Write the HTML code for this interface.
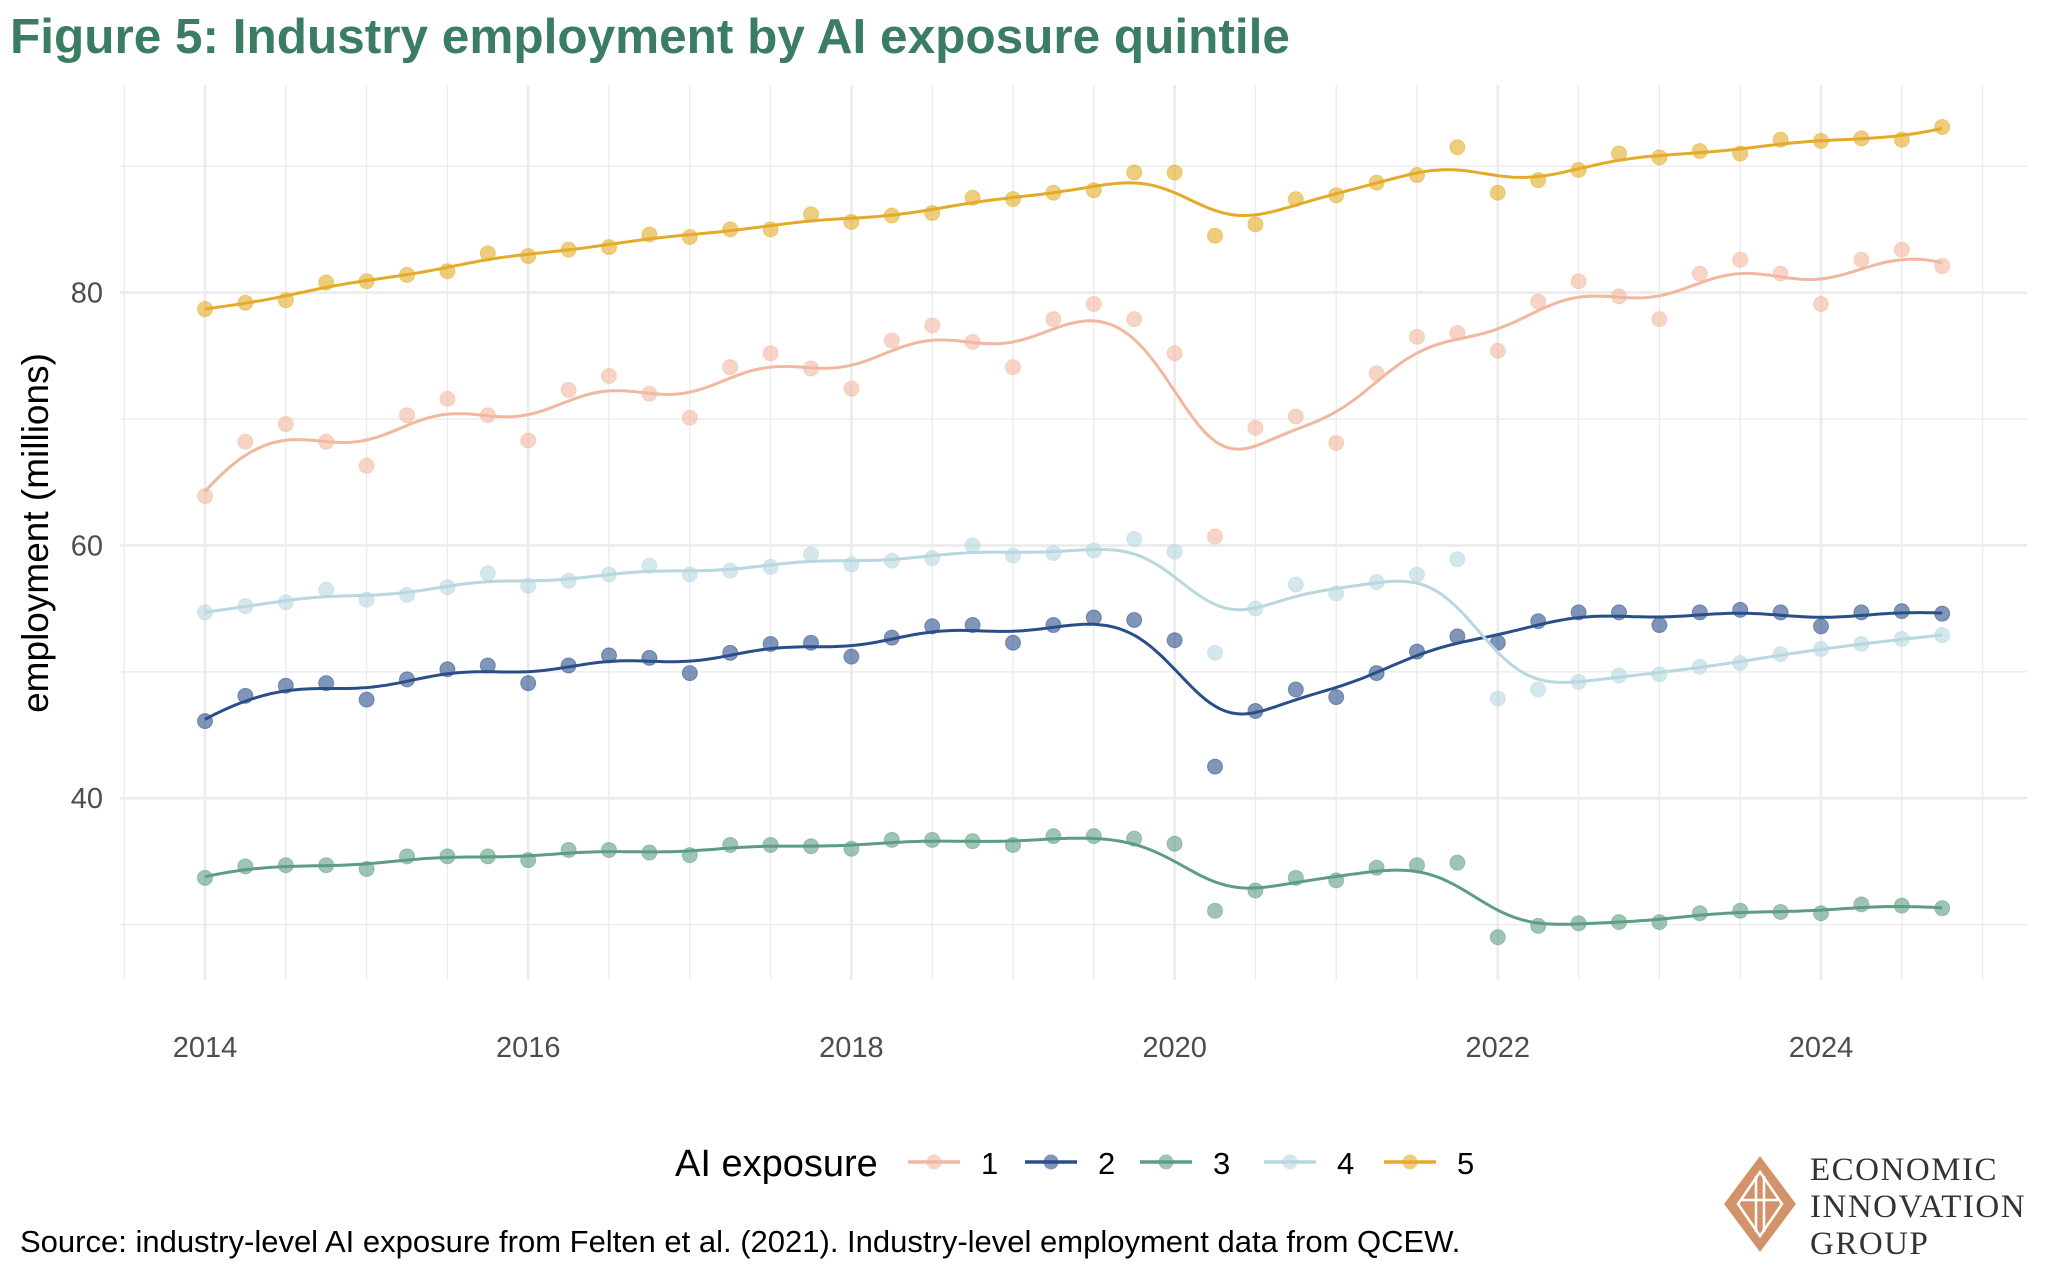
<!DOCTYPE html>
<html><head><meta charset="utf-8"><style>
html,body{margin:0;padding:0;background:#fff;}
body{width:2048px;height:1280px;overflow:hidden;font-family:"Liberation Sans",sans-serif;}
</style></head><body>
<svg id="chart" width="2048" height="1280" viewBox="0 0 2048 1280" xmlns="http://www.w3.org/2000/svg">
<text x="10" y="53" font-family="Liberation Sans, sans-serif" font-weight="bold" font-size="49.5" fill="#3b7d63">Figure 5: Industry employment by AI exposure quintile</text>
<g id="grid"></g>
<g id="series"></g>
<g id="axes"></g>
<text transform="translate(48,533) rotate(-90)" text-anchor="middle" font-size="37" fill="#000">employment (millions)</text>
<g id="legend">
<text x="675" y="1176" font-size="38" fill="#000">AI exposure</text>
</g>
<text x="20" y="1252" font-size="31" fill="#000">Source: industry-level AI exposure from Felten et al. (2021). Industry-level employment data from QCEW.</text>
<g>
<polygon points="1760,1156 1796,1204 1760,1252 1724,1204" fill="#d4926b"/>
<polygon points="1760,1172 1782,1204 1760,1236 1738,1204" fill="none" stroke="#fff" stroke-width="2.5"/>
<line x1="1756" y1="1176" x2="1756" y2="1232" stroke="#fff" stroke-width="2.5"/>
<line x1="1764" y1="1176" x2="1764" y2="1232" stroke="#fff" stroke-width="2.5"/>
<line x1="1742" y1="1200" x2="1778" y2="1200" stroke="#fff" stroke-width="2.5"/>
<text x="1810" y="1180" font-family="Liberation Serif, serif" font-size="33" fill="#333" letter-spacing="1.5">ECONOMIC</text>
<text x="1810" y="1217" font-family="Liberation Serif, serif" font-size="33" fill="#333" letter-spacing="1.5">INNOVATION</text>
<text x="1810" y="1254" font-family="Liberation Serif, serif" font-size="33" fill="#333" letter-spacing="1.5">GROUP</text>
</g>
</svg>
<script>
const quarters = [];
for (let i = 0; i < 44; i++) quarters.push(2014 + i * 0.25);
const xTicks = [2014, 2016, 2018, 2020, 2022, 2024];
const yTicks = [40, 60, 80];
const seriesNames = ["1", "2", "3", "4", "5"];
const s1 = [63.9,68.2,69.6,68.2,66.3,70.3,71.6,70.3,68.3,72.3,73.4,72.0,70.1,74.1,75.2,74.0,72.4,76.2,77.4,76.1,74.1,77.9,79.1,77.9,75.2,60.7,69.3,70.2,68.1,73.6,76.5,76.8,75.4,79.3,80.9,79.7,77.9,81.5,82.6,81.5,79.1,82.6,83.4,82.1];
const s2 = [46.1,48.1,48.9,49.1,47.8,49.4,50.2,50.5,49.1,50.5,51.3,51.1,49.9,51.5,52.2,52.3,51.2,52.7,53.6,53.7,52.3,53.7,54.3,54.1,52.5,42.5,46.9,48.6,48.0,49.9,51.6,52.8,52.3,54.0,54.7,54.7,53.7,54.7,54.9,54.7,53.6,54.7,54.8,54.6];
const s3 = [33.7,34.6,34.7,34.7,34.4,35.4,35.4,35.4,35.1,35.9,35.9,35.7,35.5,36.3,36.3,36.2,36.0,36.7,36.7,36.6,36.3,37.0,37.0,36.8,36.4,31.1,32.7,33.7,33.5,34.5,34.7,34.9,29.0,29.9,30.1,30.2,30.2,30.9,31.1,31.0,30.9,31.6,31.5,31.3];
const s4 = [54.7,55.2,55.5,56.5,55.7,56.1,56.7,57.8,56.8,57.2,57.7,58.4,57.7,58.0,58.3,59.3,58.5,58.8,59.0,60.0,59.2,59.4,59.6,60.5,59.5,51.5,55.0,56.9,56.2,57.1,57.7,58.9,47.9,48.6,49.2,49.7,49.8,50.4,50.7,51.4,51.8,52.2,52.6,52.9];
const s5 = [78.7,79.2,79.4,80.8,80.9,81.4,81.7,83.1,82.9,83.4,83.6,84.6,84.4,85.0,85.0,86.2,85.6,86.1,86.3,87.5,87.4,87.9,88.1,89.5,89.5,84.5,85.4,87.4,87.7,88.7,89.3,91.5,87.9,88.9,89.7,91.0,90.7,91.2,91.0,92.1,92.0,92.2,92.1,93.1];
const allSeries = [s1, s2, s3, s4, s5];
const colors = ["#f1b89f", "#2a4e8a", "#5e9d83", "#b8d7df", "#e3ab27"];

const NS = "http://www.w3.org/2000/svg";
const X0 = 205, PXY = 161.6, Y80 = 292.6, PXU = 12.64;
const xs = v => X0 + (v - 2014) * PXY;
const ys = v => Y80 - (v - 80) * PXU;
const PL = 120, PR = 2027, PT = 85, PB = 980;

function mk(tag, attrs, parent) {
  const e = document.createElementNS(NS, tag);
  for (const k in attrs) e.setAttribute(k, attrs[k]);
  parent.appendChild(e);
  return e;
}
const grid = document.getElementById("grid");
for (let v = 30; v <= 90; v += 10) {
  const l = mk("line", {x1: PL, x2: PR, y1: ys(v), y2: ys(v), stroke: "#ebebeb", "stroke-width": v % 20 === 0 ? 2.6 : 1.3}, grid);
  
  
}
for (let v = 2013.5; v <= 2025; v += 1) {
  const l = mk("line", {x1: xs(v), x2: xs(v), y1: PT, y2: PB, stroke: "#ebebeb", "stroke-width": 1.3}, grid);
  
  
}
for (let v = 2014; v <= 2025; v += 1) {
  const l = mk("line", {x1: xs(v), x2: xs(v), y1: PT, y2: PB, stroke: "#ebebeb", "stroke-width": (v % 2 === 0) ? 2.6 : 1.3}, grid);
  
  
}
const axes = document.getElementById("axes");
xTicks.forEach(t => {
  const tx = mk("text", {x: xs(t), y: 1057, "text-anchor": "middle", "font-size": 29, fill: "#4d4d4d"}, axes);
  tx.textContent = t;
  
  
});
yTicks.forEach(t => {
  const tx = mk("text", {x: 103, y: ys(t) + 10, "text-anchor": "end", "font-size": 29, fill: "#4d4d4d"}, axes);
  tx.textContent = t;
  
  
});

function smooth(vals) {
  const out = [];
  const h = 0.27;
  for (let x = 2014; x <= 2024.75 + 1e-9; x += 0.03125) {
    let sw = 0, sx = 0, sy = 0, sxx = 0, sxy = 0;
    for (let i = 0; i < quarters.length; i++) {
      const d = quarters[i] - x;
      const w = Math.exp(-0.5 * (d / h) * (d / h));
      sw += w; sx += w * d; sy += w * vals[i]; sxx += w * d * d; sxy += w * d * vals[i];
    }
    const den = sw * sxx - sx * sx;
    const b0 = (sxx * sy - sx * sxy) / den;
    out.push([x, b0]);
  }
  return out;
}
const sg = document.getElementById("series");
allSeries.forEach((vals, k) => {
  const g = mk("g", {}, sg);
  
  
  vals.forEach((v, i) => {
    const c = mk("circle", {cx: xs(quarters[i]), cy: ys(v), r: 7.5, fill: colors[k], "fill-opacity": 0.6, stroke: colors[k], "stroke-opacity": 0.5, "stroke-width": 1}, g);
    
    
  });
  const pts = smooth(vals).map(p => xs(p[0]).toFixed(1) + "," + ys(p[1]).toFixed(1)).join(" ");
  const pl = mk("polyline", {points: pts, fill: "none", stroke: colors[k], "stroke-width": 3, "stroke-linejoin": "round"}, g);
  
  
});
const leg = document.getElementById("legend");
const keyX = [908, 1025, 1140, 1264, 1384];
seriesNames.forEach((n, k) => {
  const g = mk("g", {}, leg);
  
  
  mk("line", {x1: keyX[k], x2: keyX[k] + 52, y1: 1162, y2: 1162, stroke: colors[k], "stroke-width": 3.5}, g);
  mk("circle", {cx: keyX[k] + 26, cy: 1162, r: 7.5, fill: colors[k], "fill-opacity": 0.6}, g);
  const t = mk("text", {x: keyX[k] + 73, y: 1174, "font-size": 31, fill: "#000"}, g);
  t.textContent = n;
});
</script>
</body></html>
